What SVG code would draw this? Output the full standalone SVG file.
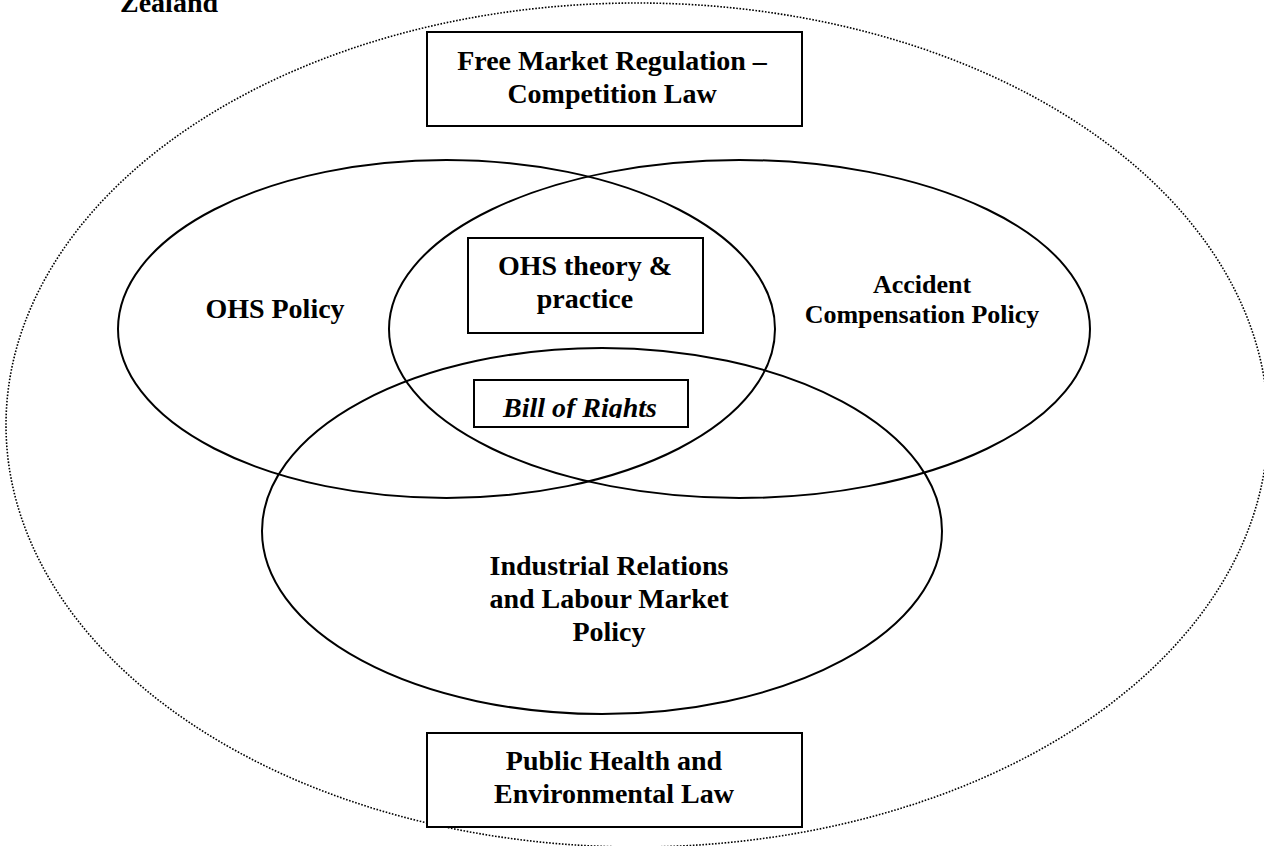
<svg xmlns="http://www.w3.org/2000/svg" width="1264" height="846" viewBox="0 0 1264 846">
<style>
  .bg { fill: #ffffff; }
  .ell { fill: none; stroke: #000; stroke-width: 2; }
  .outer { fill: none; stroke: #000; stroke-width: 1.6; stroke-dasharray: 1.6 1.6; }
  .box { fill: #ffffff; stroke: #000; stroke-width: 2; }
  .t { font-family: "Liberation Serif", "Times New Roman", serif; font-weight: bold; font-size: 28px; fill: #000; text-anchor: middle; }
  .ts { font-size: 26px; }
  .ti { font-style: italic; }
</style>
<defs>
  <clipPath id="billclip"><rect x="474" y="381" width="214" height="37"/></clipPath>
</defs>
<rect class="bg" x="0" y="0" width="1264" height="846"/>
<text class="t" x="120" y="12" style="text-anchor:start">Zealand</text>
<g id="context">
  <ellipse class="outer" cx="637" cy="425" rx="631" ry="422"/>
</g>
<g id="ohs-policy">
  <ellipse class="ell" cx="446.5" cy="329" rx="328.5" ry="169"/>
  <text class="t" x="275" y="318">OHS Policy</text>
</g>
<g id="accident-compensation">
  <ellipse class="ell" cx="739.5" cy="329" rx="350.5" ry="169"/>
  <text class="t ts" x="922" y="293">Accident</text>
  <text class="t ts" x="922" y="323">Compensation Policy</text>
</g>
<g id="industrial-relations">
  <ellipse class="ell" cx="602" cy="531" rx="340" ry="183"/>
  <text class="t" x="609" y="575">Industrial Relations</text>
  <text class="t" x="609" y="608">and Labour Market</text>
  <text class="t" x="609" y="641">Policy</text>
</g>
<g id="free-market">
  <rect class="box" x="427" y="32" width="375" height="94"/>
  <text class="t" x="612" y="70">Free Market Regulation –</text>
  <text class="t" x="612" y="103">Competition Law</text>
</g>
<g id="ohs-theory">
  <rect class="box" x="468" y="238" width="235" height="95"/>
  <text class="t" x="585" y="275">OHS theory &amp;</text>
  <text class="t" x="585" y="308">practice</text>
</g>
<g id="bill-of-rights">
  <rect class="box" x="474" y="380" width="214" height="47"/>
  <text class="t ti" x="580" y="417" clip-path="url(#billclip)">Bill of Rights</text>
</g>
<g id="public-health">
  <rect class="box" x="427" y="733" width="375" height="94"/>
  <text class="t" x="614" y="770">Public Health and</text>
  <text class="t" x="614" y="803">Environmental Law</text>
</g>
<g id="connectors"></g>
</svg>
